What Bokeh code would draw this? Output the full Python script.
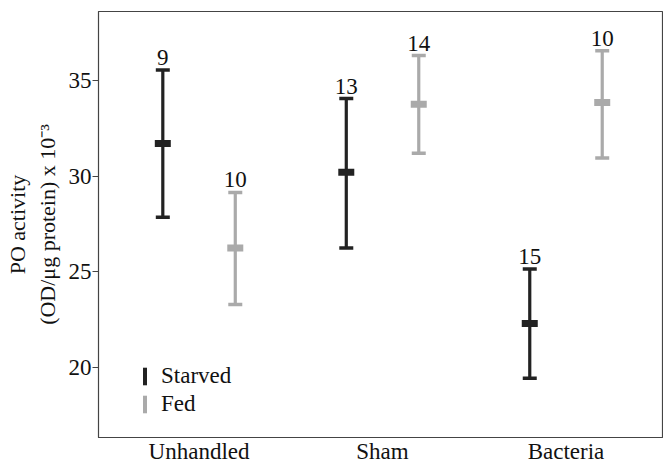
from bokeh.plotting import figure
from bokeh.models import ColumnDataSource, FixedTicker, Legend, LegendItem, Range1d
from bokeh.transform import dodge
from bokeh.core.properties import value
from bokeh.embed import file_html
from bokeh.resources import INLINE

groups = ["Unhandled", "Sham", "Bacteria"]
starved_mean = [31.7, 30.2, 22.3]
starved_upper = [35.55, 34.05, 25.15]
starved_lower = [27.85, 26.25, 19.45]
starved_n = ["9", "13", "15"]
fed_mean = [26.25, 33.75, 33.85]
fed_upper = [29.15, 36.3, 36.55]
fed_lower = [23.3, 31.2, 30.95]
fed_n = ["10", "14", "10"]
y_ticks = [20, 25, 30, 35]

FONT = "Liberation Serif"
FS = "23px"
DARK = "#222222"
GREY = "#aaaaaa"
EDGE = "#444444"
TXT = "#111111"

p = figure(width=663, height=466, output_backend="svg", toolbar_location=None,
           x_range=Range1d(-0.548, 2.526), y_range=Range1d(16.35, 38.6),
           min_border_left=98, min_border_right=1, min_border_top=11, min_border_bottom=28)
p.background_fill_color = "white"
p.border_fill_color = "white"
p.outline_line_color = EDGE
p.outline_line_width = 1.2
p.xgrid.visible = False
p.ygrid.visible = False

idx = list(range(len(groups)))
src_s = ColumnDataSource(dict(g=idx, mean=starved_mean, upper=starved_upper, lower=starved_lower, n=starved_n))
src_f = ColumnDataSource(dict(g=idx, mean=fed_mean, upper=fed_upper, lower=fed_lower, n=fed_n))

def draw(src, color, off):
    x = dodge("g", off)
    p.segment(x0=x, y0="lower", x1=x, y1="upper", source=src, line_color=color, line_width=3.2)
    for col in ("upper", "lower"):
        p.rect(x=x, y=col, width=14, height=3.5, width_units="screen", height_units="screen",
               source=src, fill_color=color, line_color=None)
    m = p.rect(x=x, y="mean", width=16, height=7, width_units="screen", height_units="screen",
               source=src, fill_color=color, line_color=None)
    p.text(x=x, y="upper", text="n", source=src, y_offset=-5, text_align="center",
           text_baseline="bottom", text_font=value(FONT), text_font_size=FS, text_color=TXT)
    return m

m_s = draw(src_s, DARK, -0.1975)
m_f = draw(src_f, GREY, 0.1975)

legend = Legend(items=[LegendItem(label="Starved", renderers=[m_s]),
                       LegendItem(label="Fed", renderers=[m_f])],
                location=(44, 20), label_text_font=FONT, label_text_font_size=FS,
                label_text_color=TXT, glyph_width=5, glyph_height=22, label_standoff=14,
                spacing=2, padding=0, margin=0, border_line_color=None,
                background_fill_alpha=0)
p.add_layout(legend)

# x axis
p.xaxis.ticker = FixedTicker(ticks=idx)
p.xaxis.major_label_overrides = {i: g for i, g in enumerate(groups)}
p.xaxis.major_tick_line_color = None
p.xaxis.major_tick_out = 0
p.xaxis.major_tick_in = 0
p.xaxis.minor_tick_line_color = None
p.xaxis.axis_line_color = EDGE
p.xaxis.major_label_standoff = 1
p.xaxis.major_label_text_font = FONT
p.xaxis.major_label_text_font_size = FS
p.xaxis.major_label_text_color = TXT

# y axis
p.yaxis.ticker = FixedTicker(ticks=y_ticks)
p.yaxis.minor_tick_line_color = None
p.yaxis.major_tick_out = 6
p.yaxis.major_tick_in = 0
p.yaxis.major_tick_line_color = EDGE
p.yaxis.axis_line_color = EDGE
p.yaxis.major_label_standoff = 1
p.yaxis.major_label_text_font = FONT
p.yaxis.major_label_text_font_size = FS
p.yaxis.major_label_text_color = TXT
p.yaxis.axis_label = "PO activity\n(OD/\u03bcg protein) x 10\u207b\u00b3"
p.yaxis.axis_label_text_font = FONT
p.yaxis.axis_label_text_font_style = "normal"
p.yaxis.axis_label_text_font_size = "22px"
p.yaxis.axis_label_text_color = TXT
p.yaxis.axis_label_standoff = 6

open("out.html", "w").write(file_html(p, INLINE))
